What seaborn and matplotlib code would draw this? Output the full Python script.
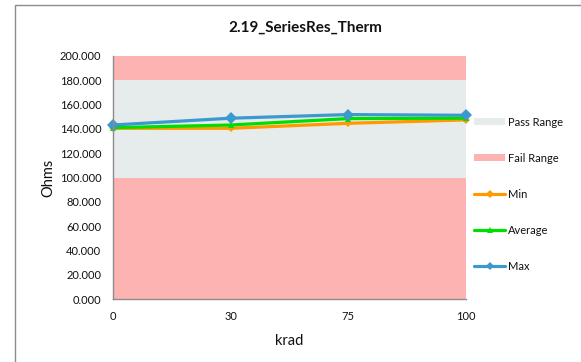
import matplotlib
matplotlib.use("Agg")
import matplotlib.pyplot as plt
import seaborn as sns
from matplotlib.patches import Patch, Rectangle
from matplotlib.lines import Line2D

# -------------------------------
# Data
# -------------------------------
krad = ["0", "30", "75", "100"]
min_vals = [140.5, 140.5, 144.6, 147.4]
avg_vals = [141.0, 143.2, 148.5, 148.8]
max_vals = [143.2, 148.8, 151.8, 151.2]

fail_low = (0, 100)
pass_band = (100, 180)
fail_high = (180, 200)
y_ticks = list(range(0, 201, 20))

title = "2.19_SeriesRes_Therm"

sns.set_style("white")
plt.rcParams["font.family"] = ["Lato", "DejaVu Sans"]

PASS_COLOR = "#E6EBEB"
FAIL_COLOR = "#FDB3B2"
MIN_COLOR = "#FF9900"
AVG_COLOR = "#00DD00"
MAX_COLOR = "#3C99D0"

fig = plt.figure(figsize=(5.81, 3.62), dpi=100)
ax = fig.add_axes([113 / 581, 1 - 299 / 362, 353 / 581, 243 / 362])

# -------------------------------
# Pass / fail bands
# -------------------------------
ax.axhspan(*fail_low, color=FAIL_COLOR, lw=0, zorder=0)
ax.axhspan(*pass_band, color=PASS_COLOR, lw=0, zorder=0)
ax.axhspan(*fail_high, color=FAIL_COLOR, lw=0, zorder=0)

# -------------------------------
# Series
# -------------------------------
series = [
    (min_vals, MIN_COLOR, "D", 4),
    (avg_vals, AVG_COLOR, "^", 5),
    (max_vals, MAX_COLOR, "D", 6),
]
for vals, color, marker, ms in series:
    sns.lineplot(
        x=krad, y=vals, sort=False, ax=ax, color=color,
        linewidth=2.3, marker=marker, markersize=ms,
        markeredgewidth=0, clip_on=False, zorder=3,
    )

ax.set_xlim(0, len(krad) - 1)
ax.set_ylim(0, 200)
ax.set_yticks(y_ticks)
ax.set_yticklabels([f"{v:.3f}" for v in y_ticks])

for side in ["top", "right"]:
    ax.spines[side].set_visible(False)
for side in ["left", "bottom"]:
    ax.spines[side].set_color("#8C8C8C")
    ax.spines[side].set_linewidth(1)
    ax.spines[side].set_zorder(4)

ax.tick_params(axis="both", direction="out", length=4, width=1,
               color="#8C8C8C", labelsize=8, labelcolor="#111111")
ax.tick_params(axis="y", pad=4.5)
ax.tick_params(axis="x", pad=5)

ax.set_xlabel("krad", fontsize=10.5, color="#111111", labelpad=8)
ax.set_ylabel("Ohms", fontsize=10.5, color="#111111", labelpad=3)

fig.text(305 / 581, 1 - 28 / 362, title, ha="center", va="center",
         fontsize=11, fontweight="bold", color="#111111")

# -------------------------------
# Legend
# -------------------------------
handles = [
    Patch(facecolor=PASS_COLOR, edgecolor="none"),
    Patch(facecolor=FAIL_COLOR, edgecolor="none"),
    Line2D([], [], color=MIN_COLOR, lw=2.3, marker="D", markersize=4, markeredgewidth=0),
    Line2D([], [], color=AVG_COLOR, lw=2.3, marker="^", markersize=5, markeredgewidth=0),
    Line2D([], [], color=MAX_COLOR, lw=2.3, marker="D", markersize=4, markeredgewidth=0),
]
labels = ["Pass Range", "Fail Range", "Min", "Average", "Max"]
fig.legend(
    handles, labels, loc="center left",
    bbox_to_anchor=(474 / 581, 1 - 194 / 362),
    frameon=False, fontsize=8, labelspacing=2.25,
    handlelength=2.8, handleheight=0.6, handletextpad=0.3,
    borderpad=0, borderaxespad=0, labelcolor="#111111",
)

# Chart area border
fig.patches.append(Rectangle(
    (15 / 581, -0.1), 1.1, 0.985 + 0.1, transform=fig.transFigure,
    fill=False, edgecolor="#8C8C8C", linewidth=1,
))

fig.savefig("out.png", dpi=100)
plt.close()
